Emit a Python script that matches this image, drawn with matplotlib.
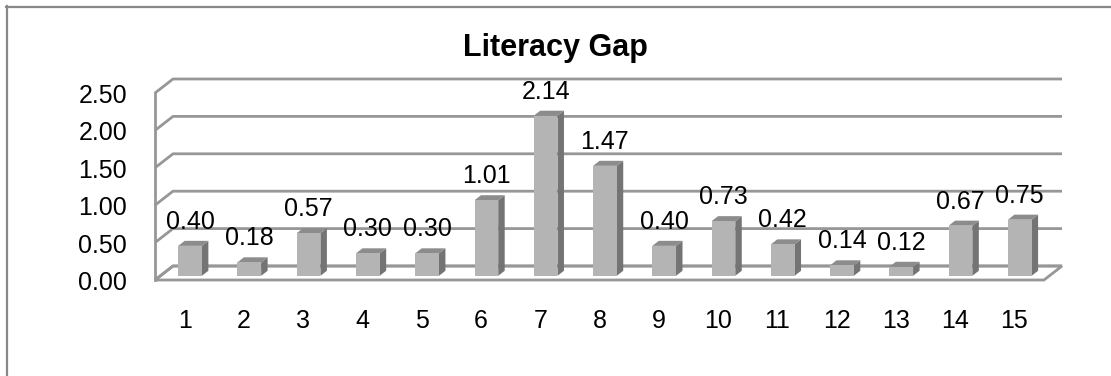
import numpy as np
import matplotlib
matplotlib.use("Agg")
import matplotlib.pyplot as plt
from matplotlib.lines import Line2D
from matplotlib.patches import Polygon

plt.rcParams['font.family'] = ['Liberation Sans', 'DejaVu Sans']

categories = [str(i) for i in range(1, 16)]
gap = [0.40, 0.18, 0.57, 0.30, 0.30, 1.01, 2.14, 1.47, 0.40, 0.73,
       0.42, 0.14, 0.12, 0.67, 0.75]
y_ticks = [0.0, 0.5, 1.0, 1.5, 2.0, 2.5]

W, H = 1111, 376
fig = plt.figure(figsize=(W / 100, H / 100), dpi=100)

# back wall of the pseudo-3d plot area (pixels from top-left)
wall_l, wall_r, wall_top, wall_bot = 173, 1062, 79, 266
ax = fig.add_axes([wall_l / W, (H - wall_bot) / H,
                   (wall_r - wall_l) / W, (wall_bot - wall_top) / H])
n = len(categories)
ax.set_xlim(0.5, n + 0.5)
ax.set_ylim(0, y_ticks[-1])
ax.axis('off')

px_x = (wall_r - wall_l) / n              # pixels per category
px_y = (wall_bot - wall_top) / y_ticks[-1]  # pixels per unit
DEPTH_X, DEPTH_Y = -18, 14                 # full depth offset in pixels


def proj(x, y, z):
    """category/value/depth (0 = back, 1 = front) -> data coordinates"""
    return x + DEPTH_X * z / px_x, y - DEPTH_Y * z / px_y


grid_c = '#979797'
x0, x1 = 0.5, n + 0.5
FS = 18

# floor
floor = [proj(x0, 0, 0), proj(x1, 0, 0), proj(x1, 0, 1), proj(x0, 0, 1)]
ax.add_patch(Polygon(floor, closed=True, fc='white', ec=grid_c, lw=2.0,
                     clip_on=False, zorder=1))

# gridlines along left side wall and back wall
for v in y_ticks:
    pts = [proj(x0, v, 1), proj(x0, v, 0), proj(x1, v, 0)]
    ax.plot([p[0] for p in pts], [p[1] for p in pts], color=grid_c, lw=2.0,
            clip_on=False, zorder=2, solid_capstyle='butt')
# front edge of the left wall
a, b = proj(x0, 0, 1), proj(x0, y_ticks[-1], 1)
ax.plot([a[0], b[0]], [a[1], b[1]], color=grid_c, lw=2.0, clip_on=False, zorder=2)

# bars: front face, right side, top
bw = 0.40
zf, zb = 0.70, 0.34
xs = np.arange(1, n + 1)
fx, fy = proj(xs, 0, zf)
ax.bar(fx, gap, width=bw, bottom=fy, color='#b4b4b4', zorder=5, clip_on=False)
for x, v in zip(xs, gap):
    side = [proj(x + bw / 2, 0, zf), proj(x + bw / 2, v, zf),
            proj(x + bw / 2, v, zb), proj(x + bw / 2, 0, zb)]
    top = [proj(x - bw / 2, v, zf), proj(x + bw / 2, v, zf),
           proj(x + bw / 2, v, zb), proj(x - bw / 2, v, zb)]
    ax.add_patch(Polygon(side, closed=True, fc='#747474', ec='none',
                         zorder=4, clip_on=False))
    ax.add_patch(Polygon(top, closed=True, fc='#8c8c8c', ec='none',
                         zorder=4, clip_on=False))
    lx, ly = proj(x, v, zf)
    ax.annotate(f"{v:.2f}", (lx, ly), xytext=(0, 24), textcoords='offset pixels',
                ha='center', va='center', fontsize=FS, zorder=6,
                annotation_clip=False)

# value axis labels
for v in y_ticks:
    lx, ly = proj(x0, v, 1)
    ax.annotate(f"{v:.2f}", (lx, ly), xytext=(-28, -3), textcoords='offset pixels',
                ha='right', va='center', fontsize=FS, annotation_clip=False)

# category labels
for x, c in zip(xs, categories):
    lx, ly = proj(x, 0, 1)
    ax.annotate(c, (lx, ly), xytext=(0, -41), textcoords='offset pixels',
                ha='center', va='center', fontsize=FS, annotation_clip=False)

fig.text(0.5, 1 - 48 / H, "Literacy Gap", ha='center', va='center',
         fontsize=22, fontweight='bold')

# chart border (top and left edges)
fig.add_artist(Line2D([6 / W, 1], [1 - 7 / H, 1 - 7 / H], color='#888888', lw=1.6))
fig.add_artist(Line2D([7 / W, 7 / W], [0, 1 - 6 / H], color='#888888', lw=1.6))

fig.savefig("out.png", dpi=100)
